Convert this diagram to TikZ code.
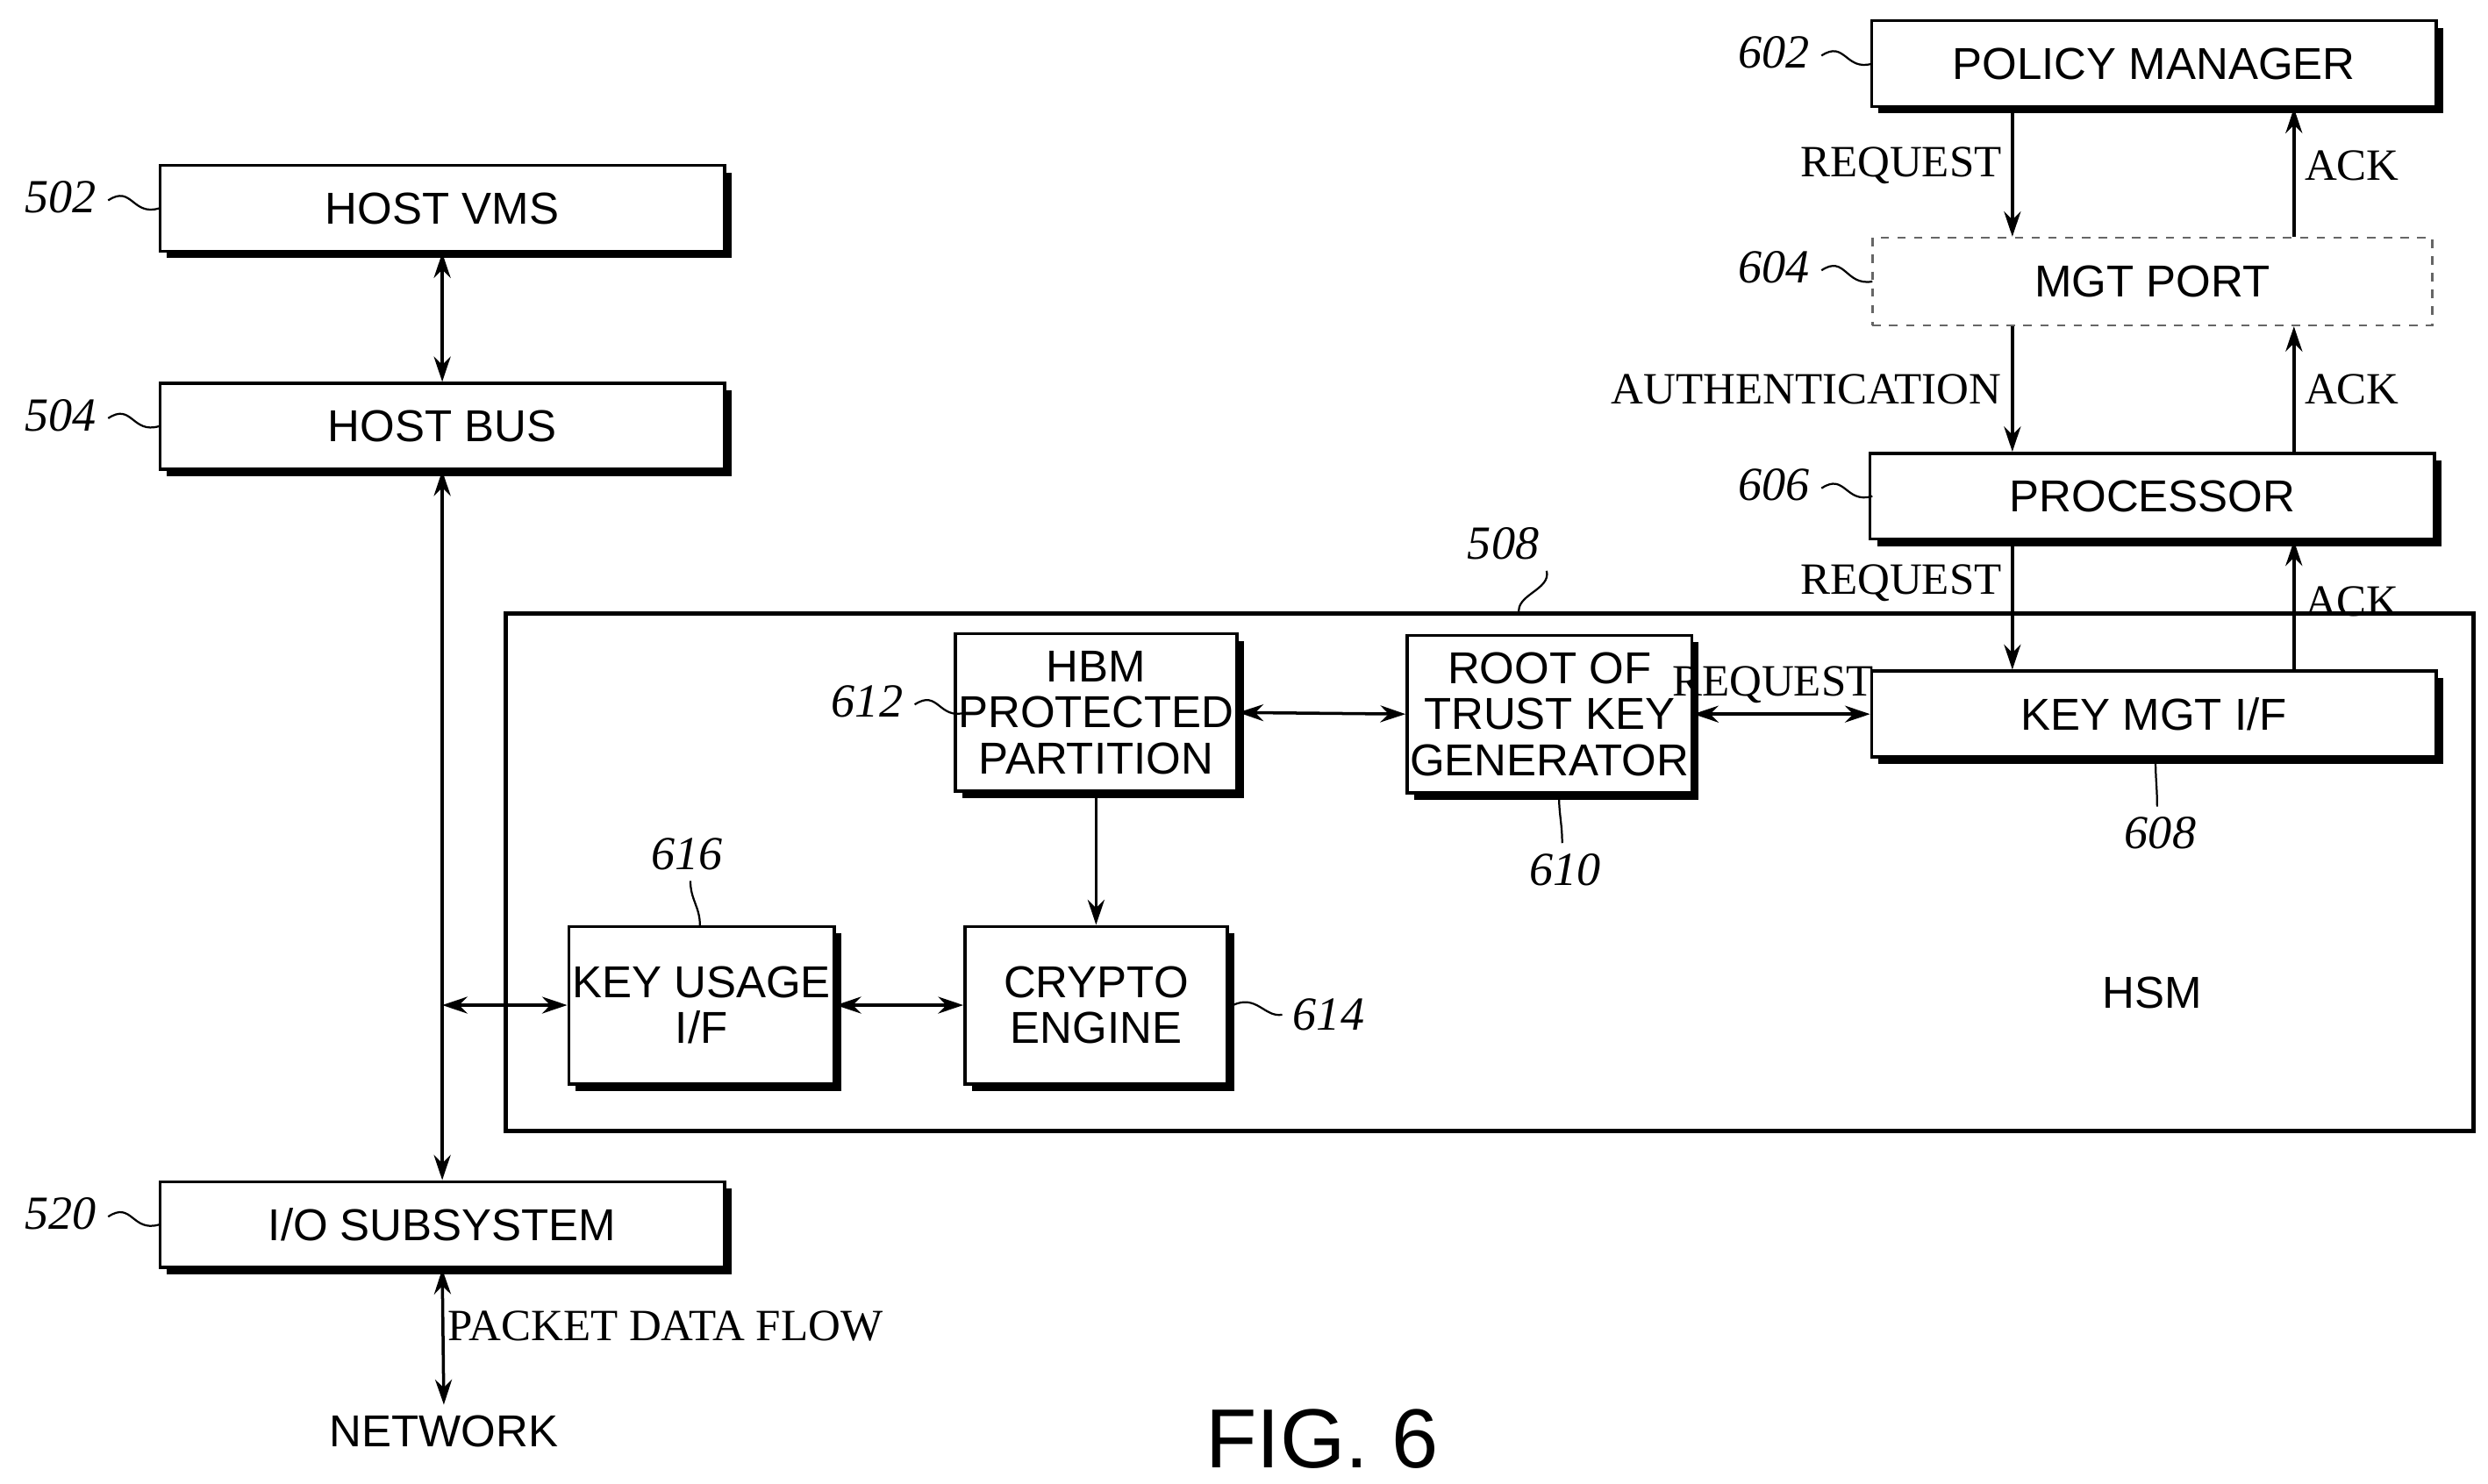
\documentclass[tikz,border=0pt]{standalone}
\usepackage{fontspec}
\setmainfont{Liberation Sans}
\usetikzlibrary{arrows.meta,shadows,calc}
\begin{document}
\begin{tikzpicture}[x=0.02cm,y=-0.02cm,font=\fontsize{16}{18}\selectfont,line width=1.1pt,
  >={Stealth[length=9pt,width=6pt]}]
\tikzstyle{bx} = [rectangle, draw=black, fill=white, align=center, inner sep=1pt,
  drop shadow={shadow xshift=2.5pt, shadow yshift=-2.5pt, fill=black, opacity=1}]
\tikzstyle{wide} = [bx, minimum width=7.1cm, minimum height=1.08cm]
\tikzstyle{small} = [bx, minimum width=3.3cm, minimum height=1.98cm, font=\fontsize{16}{16.5}\selectfont]
\tikzstyle{num} = [font=\fontsize{17}{19}\selectfont\itshape]
\useasboundingbox (0,0) rectangle (1564,933);

\node (pm) [wide] at (1354,40) {POLICY MANAGER};
\node (mgt) [rectangle, draw=black!60, dashed, line width=0.8pt, minimum width=7.04cm, minimum height=1.1cm] at (1353,177) {MGT PORT};
\node (proc) [wide] at (1353,312) {PROCESSOR};
\draw[line width=1.6pt] (318,386) rectangle (1555,711);
\node (kmi) [wide] at (1354,449) {KEY MGT I/F};
\node (hbm) [small] at (689,448) {HBM\\PROTECTED\\PARTITION};
\node (rot) [small] at (974,449) {ROOT OF\\TRUST KEY\\GENERATOR};
\node (kui) [small, minimum width=3.34cm] at (441,632) {KEY USAGE\\I/F};
\node (ce) [small] at (689,632) {CRYPTO\\ENGINE};
\node (hsm) at (1353,624) {HSM};
\node (hvm) [wide] at (278,131) {HOST VMS};
\node (hb) [wide] at (278,268) {HOST BUS};
\node (io) [wide] at (278,770) {I/O SUBSYSTEM};
\node (net) at (279,900) {NETWORK};
\node (fig) [font=\fontsize{30}{32}\selectfont\rmfamily] at (831,905) {FIG. 6};
\setmainfont{Liberation Serif}

% connectors
\coordinate (rq) at (1265,0);
\coordinate (ak) at (1442,0);
\draw[->] (rq |- pm.south) -- node[left, pos=0.45] {REQUEST} (rq |- mgt.north);
\draw[->] (ak |- mgt.north) -- node[right, pos=0.55] {ACK} (ak |- pm.south);
\draw[->] (rq |- mgt.south) -- node[left, pos=0.5] {AUTHENTICATION} (rq |- proc.north);
\draw[->] (ak |- proc.north) -- node[right, pos=0.5] {ACK} (ak |- mgt.south);
\draw[->] (rq |- proc.south) -- node[left, pos=0.33] {REQUEST} (rq |- kmi.north);
\draw[->] (ak |- kmi.north) -- node[right, pos=0.53] {ACK} (ak |- proc.south);
\draw[<->] (rot.east) -- node[above, pos=0.45] {REQUEST} (kmi.west);
\draw[<->] (hbm.east) -- (rot.west);
\draw[->] (hbm.south) -- (ce.north);
\draw[<->] (kui.east) -- (ce.west);
\draw[<->] (hvm.south) -- (hb.north);
\draw[<->] (hb.south) -- (io.north);
\draw[<->] (hb.south |- kui.west) -- (kui.west);
\draw[<->] (io.south) -- node[right, pos=0.42, xshift=-2pt] {PACKET DATA FLOW} (net.north);

% reference numbers
\foreach \t/\x/\y/\ax/\ay in {602/1115/33/1177/40, 604/1115/168/1177/177, 606/1115/305/1177/312,
  502/38/124/100/131, 504/38/261/100/268, 520/38/763/100/770, 612/545/441/607/448}
  \draw[line width=0.7pt] (\x+30,\y+2) .. controls (\x+45,\y-8) and (\x+45,\y+12) .. (\ax,\ay)
    node[num, anchor=east] at (\x+29,\y) {\t};
\node (n508) [num] at (945,342) {508};
\draw[line width=0.7pt] (n508.south east) ++(-2,0) .. controls +(3,12) and +(-3,-12) .. (955,386);
\node (n608) [num] at (1358,524) {608};
\draw[line width=0.7pt] (n608.north) ++(-2,0) .. controls +(0,-12) and +(0,12) .. (1355,478);
\node (n610) [num] at (984,547) {610};
\draw[line width=0.7pt] (n610.north) ++(-2,0) .. controls +(0,-12) and +(0,12) .. (980,500);
\node (n616) [num] at (432,537) {616};
\draw[line width=0.7pt] (n616.south) ++(2,0) .. controls +(0,12) and +(0,-12) .. (440,582);
\node (n614) [num, anchor=west] at (806,638) {614};
\draw[line width=0.7pt] (775,632) .. controls (790,625) and (795,640) .. (n614.west);
\end{tikzpicture}
\end{document}
